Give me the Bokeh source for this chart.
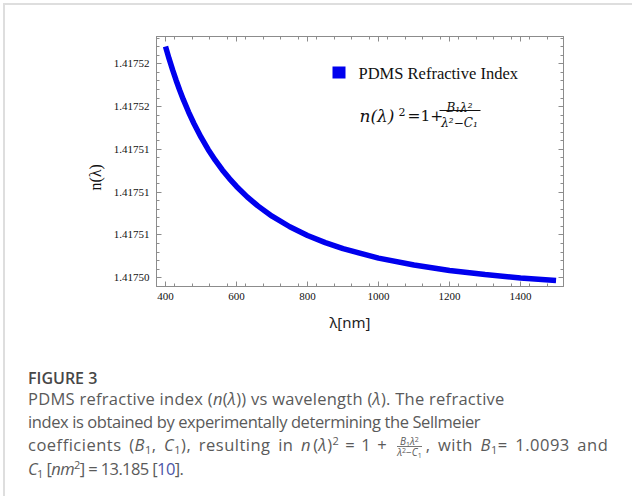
from bokeh.plotting import figure
from bokeh.models import (FixedTicker, LinearAxis, Range1d, Label, Title,
                          PrintfTickFormatter, BoxAnnotation, Div, CustomLabelingPolicy)
from bokeh.layouts import column
from bokeh.embed import file_html
from bokeh.resources import INLINE

# ---------------- data ----------------
wavelength_nm = [400, 410, 420, 430, 440, 450, 465, 480, 500, 520, 540, 560,
                 580, 600, 630, 660, 700, 750, 800, 850, 900, 1000, 1100,
                 1200, 1300, 1400, 1500]
refractive_index = [1.41752361, 1.41752248, 1.41752143, 1.41752044, 1.41751953,
                    1.41751867, 1.41751749, 1.41751642, 1.41751514, 1.41751400,
                    1.41751299, 1.41751208, 1.41751127, 1.41751054, 1.41750956,
                    1.41750872, 1.41750776, 1.41750677, 1.41750596, 1.41750529,
                    1.41750472, 1.41750384, 1.41750319, 1.41750269, 1.41750230,
                    1.41750199, 1.41750175]

x_ticks = [400, 600, 800, 1000, 1200, 1400]
x_tick_labels = ["400", "600", "800", "1000", "1200", "1400"]
y_ticks = [1.417502, 1.417506, 1.417510, 1.417514, 1.417518, 1.417522]
y_tick_labels = ["1.41750", "1.41751", "1.41751", "1.41751", "1.41752", "1.41752"]

legend_label = "PDMS Refractive Index"
x_label = "λ[nm]"
y_label = "n(λ)"

BLUE = "#0000ee"
FRAME = "#8c8c8c"

x_minor = [375 + 50 * i for i in range(24) if (375 + 50 * i) not in x_ticks]
y_minor = [1.4175012 + 0.0000008 * i for i in range(30)]

p = figure(width=629, height=345, output_backend="svg", toolbar_location=None,
           x_range=Range1d(374.6, 1521.0), y_range=Range1d(1.417501187, 1.417524551),
           x_axis_location=None, y_axis_location=None,
           min_border_left=151, min_border_right=71, min_border_top=31,
           min_border_bottom=64)
p.xgrid.visible = False
p.ygrid.visible = False
p.outline_line_color = FRAME
p.outline_line_width = 1
p.background_fill_color = "white"
p.border_fill_color = "white"

xt = FixedTicker(ticks=x_ticks, minor_ticks=x_minor)
yt = FixedTicker(ticks=y_ticks, minor_ticks=y_minor)

hide_all = CustomLabelingPolicy(code="""
    for (const i of Array.from(indices)) { indices.unset(i) }
    return indices
""")


def style_axis(ax, labels=True):
    ax.axis_line_color = FRAME
    ax.major_tick_line_color = FRAME
    ax.minor_tick_line_color = FRAME
    ax.major_tick_in = 5
    ax.major_tick_out = 0
    ax.minor_tick_in = 3
    ax.minor_tick_out = 0
    if labels:
        ax.major_label_text_font = "Liberation Serif"
        ax.major_label_text_font_size = "11px"
        ax.major_label_text_color = "#111111"
        ax.major_label_standoff = 6
    else:
        ax.major_label_policy = hide_all
        ax.major_label_standoff = 0


xb = LinearAxis(ticker=xt)
xb.major_label_overrides = {t: s for t, s in zip(x_ticks, x_tick_labels)}
style_axis(xb)
p.add_layout(xb, "below")

yl = LinearAxis(ticker=yt, formatter=PrintfTickFormatter(format="%.5f"))
yl.major_label_overrides = {t: s for t, s in zip(y_ticks, y_tick_labels)}
style_axis(yl)
yl.major_label_standoff = 7
p.add_layout(yl, "left")

xa = LinearAxis(ticker=xt)
style_axis(xa, labels=False)
p.add_layout(xa, "above")
yr = LinearAxis(ticker=yt)
style_axis(yr, labels=False)
p.add_layout(yr, "right")

# axis titles (side titles so they can be offset like the reference)
p.add_layout(Title(text=y_label, align="left", offset=96, standoff=14,
                   text_font="Liberation Serif", text_font_size="16px",
                   text_font_style="normal", text_color="#111111"), "left")
p.add_layout(Title(text=x_label, align="left", offset=173, standoff=14,
                   text_font="Noto Sans", text_font_size="15px",
                   text_font_style="normal", text_color="#222222"), "below")

p.line(wavelength_nm, refractive_index, line_width=5.5, line_color=BLUE)

# legend key (square + text)
p.add_layout(BoxAnnotation(left=176, right=189, bottom=208, top=220,
                           left_units="screen", right_units="screen",
                           bottom_units="screen", top_units="screen",
                           fill_color=BLUE, fill_alpha=1, line_color=None))
p.add_layout(Label(x=202, y=213.5, x_units="screen", y_units="screen",
                   text=legend_label, text_baseline="middle",
                   text_font="Liberation Serif", text_font_size="16.5px",
                   text_color="#111111"))

# formula annotation
FF = "DejaVu Serif"
p.add_layout(Label(x=203, y=171, x_units="screen", y_units="screen", text="n(λ)",
                   text_font=FF, text_font_style="italic", text_font_size="17px",
                   text_baseline="alphabetic", text_color="#111111"))
p.add_layout(Label(x=242, y=175, x_units="screen", y_units="screen", text="2",
                   text_font=FF, text_font_size="11px",
                   text_baseline="alphabetic", text_color="#111111"))
p.add_layout(Label(x=251, y=171, x_units="screen", y_units="screen", text="=1+",
                   text_font=FF, text_font_size="15.5px",
                   text_baseline="alphabetic", text_color="#111111"))
p.add_layout(Label(x=303, y=179, x_units="screen", y_units="screen", text="B₁λ²",
                   text_font=FF, text_font_style="italic", text_font_size="12px",
                   text_align="center", text_baseline="alphabetic", text_color="#111111"))
p.add_layout(Label(x=303, y=164, x_units="screen", y_units="screen", text="λ²−C₁",
                   text_font=FF, text_font_style="italic", text_font_size="12px",
                   text_align="center", text_baseline="alphabetic", text_color="#111111"))
p.add_layout(BoxAnnotation(left=283, right=324, bottom=175.5, top=176.5,
                           left_units="screen", right_units="screen",
                           bottom_units="screen", top_units="screen",
                           fill_color="#111111", fill_alpha=1, line_color=None))

# ---------------- caption ----------------
def sub(t, size=11, top=3):
    return f'<span style="font-size:{size}px;line-height:0;position:relative;top:{top}px">{t}</span>'


def sup(t, size=11, top=-6):
    return f'<span style="font-size:{size}px;line-height:0;position:relative;top:{top}px">{t}</span>'


def op(t):
    return f'<span style="margin:0 6px">{t}</span>'


frac = ('<span style="display:inline-block;vertical-align:middle;text-align:center;'
        'font-size:10px;line-height:10px;margin:0 4px;letter-spacing:0">'
        '<span style="display:block;border-bottom:1px solid #777;padding:0 2px">'
        f'<i>B</i>{sub("1", 7, 2)}<i>λ</i>{sup("2", 7, -3)}</span>'
        f'<span style="display:block"><i>λ</i>{sup("2", 7, -3)}−<i>C</i>{sub("1", 7, 2)}</span>'
        '</span>')


def line(html, ls):
    return f'<span style="letter-spacing:{ls}">{html}</span>'


cap_html = (
    '<div style="padding:19px 0 0 23px;font-family:\'Open Sans\';color:#5a5a5a;white-space:nowrap">'
    '<div style="font-size:16px;line-height:18px;font-weight:600;color:#474747">FIGURE 3</div>'
    '<div style="font-size:16.5px;line-height:23px">'
    + line('PDMS refractive index (<i>n</i>(<i>λ</i>)) vs wavelength (<i>λ</i>). The refractive', '0.27px')
    + '<br>'
    + line('index is obtained by experimentally determining the Sellmeier', '-0.4px')
    + '<br>'
    + '<span style="letter-spacing:0.5px;word-spacing:2.8px">'
    f'coefficients (<i>B</i>{sub("1")}, <i>C</i>{sub("1")}), resulting in '
    f'<i>n</i>&#8202;(<i>λ</i>){sup("2")}{op("=")}1{op("+")}{frac}, with <i>B</i>{sub("1")}= 1.0093 and'
    '</span><br>'
    + line(f'<i>C</i>{sub("1")} [<i>nm</i>{sup("2")}] = 13.185 [<span style="color:#4a55a8">10</span>].', '-0.6px')
    + '</div></div>'
)
cap = Div(text=cap_html, width=629, height=148, margin=0)

layout = column(p, cap, margin=(5, 0, 0, 5),
                styles={"box-shadow": "-2px -2px 0 0 #dedede"})

open("out.html", "w").write(file_html(layout, INLINE))
